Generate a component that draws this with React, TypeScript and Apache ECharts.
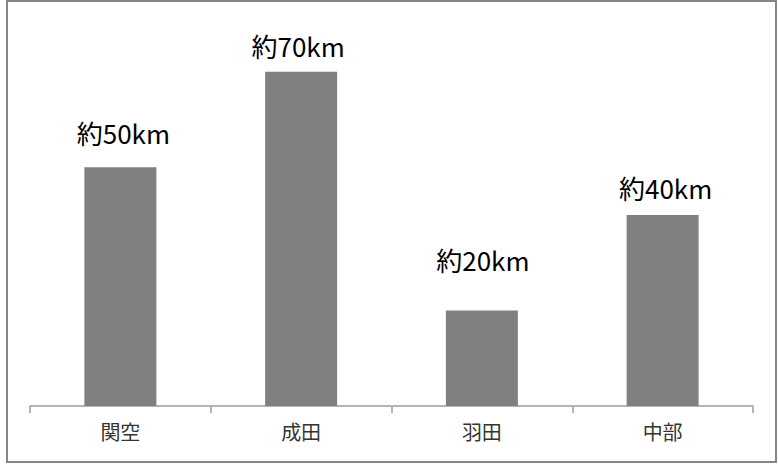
import React, { useEffect, useRef } from "react";
import * as echarts from "echarts";

const categories = ["関空", "成田", "羽田", "中部"];
const values = [50, 70, 20, 40];
const valueLabels = ["約50km", "約70km", "約20km", "約40km"];

// manual label placement (as in the original chart)
const labelDistance = [22, 13, 38, 15];
const labelShiftX = [3, -3, 1, 3];

export default function App() {
  const ref = useRef<HTMLDivElement>(null);
  useEffect(() => {
    const chart = echarts.init(ref.current!, null, { renderer: "svg" });
    chart.setOption({
      animation: false,
      backgroundColor: "#ffffff",
      grid: { left: 30, right: 25, top: 24, bottom: 63 },
      graphic: [
        {
          type: "rect",
          shape: { x: 7, y: 1, width: 769, height: 461 },
          style: { fill: "none", stroke: "#868686", lineWidth: 2 },
          silent: true,
        },
      ],
      xAxis: {
        type: "category",
        data: categories,
        axisLine: { lineStyle: { color: "#b4b4b4", width: 2 } },
        axisTick: { show: true, length: 7, lineStyle: { color: "#b4b4b4", width: 2 } },
        axisLabel: {
          margin: 15,
          fontSize: 20,
          color: "#333333",
          fontFamily: "Noto Sans CJK JP",
        },
      },
      yAxis: {
        type: "value",
        min: 0,
        max: 80,
        show: false,
        splitLine: { show: false },
      },
      series: [
        {
          type: "bar",
          data: values.map((v, i) => ({
            value: v,
            label: { distance: labelDistance[i], offset: [labelShiftX[i], 0] },
          })),
          barWidth: 72,
          itemStyle: { color: "#808080" },
          label: {
            show: true,
            position: "top",
            fontSize: 26,
            color: "#000000",
            fontFamily: "Noto Sans CJK JP",
            formatter: (p: any) => valueLabels[p.dataIndex],
          },
        },
      ],
    });
    return () => chart.dispose();
  }, []);
  return (
    <div
      ref={ref}
      style={{ position: "absolute", left: 0, top: 0, width: 778, height: 469 }}
    />
  );
}
